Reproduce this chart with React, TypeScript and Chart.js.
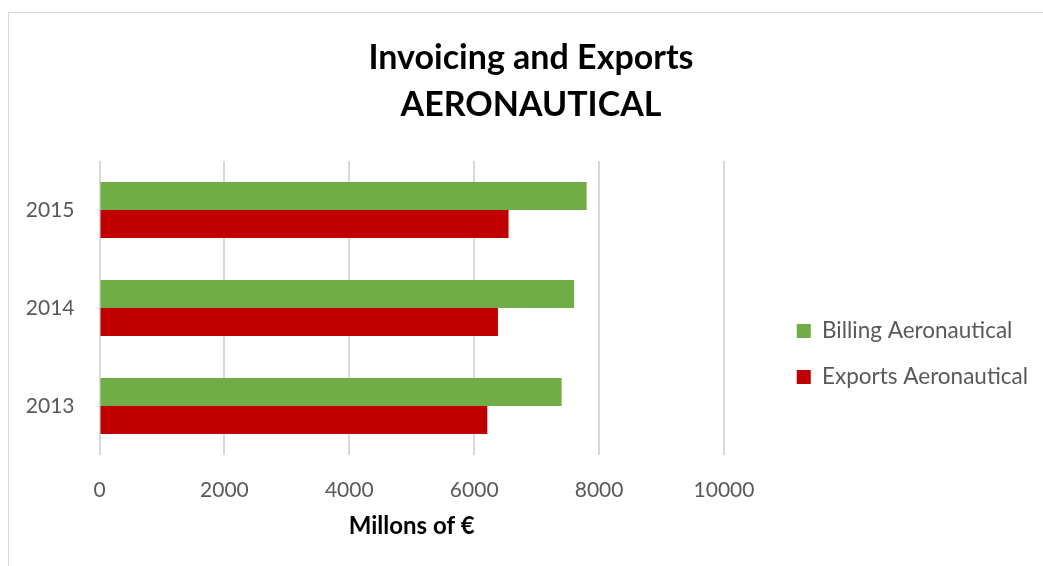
import React, { useEffect, useRef } from 'react';
import { Chart, registerables } from 'chart.js';

Chart.register(...registerables);

// ---- data ----
const years = ['2015', '2014', '2013'];
const billingAeronautical = [7800, 7600, 7400];
const exportsAeronautical = [6550, 6380, 6210];
const seriesNames = ['Billing Aeronautical', 'Exports Aeronautical'];
const seriesColors = ['#70AD47', '#C00000'];
const titleLines = ['Invoicing and Exports', 'AERONAUTICAL'];
const xAxisTitle = 'Millons of €';
const xMin = 0;
const xMax = 10000;
const xStep = 2000;

// ---- layout / style ----
const FONT = 'Lato, "Open Sans", sans-serif';
const H = 566;
const TITLE_CX = 531.5;
const PLOT_LEFT = 99.5;
const PLOT_RIGHT = 724;
const LEGEND_BOX_X = 797;
const LEGEND_SIZE = 22.5;
const LEGEND_PAD = 46 - LEGEND_SIZE;
const BOX = 14;
const TICK_SIZE = 21;
const TEXT_GRAY = '#595959';
const GRID = '#d9d9d9';

export default function App() {
  const ref = useRef<HTMLCanvasElement>(null);

  useEffect(() => {
    const canvas = ref.current;
    if (!canvas) return;
    const m = document.createElement('canvas').getContext('2d')!;
    m.font = `${LEGEND_SIZE}px ${FONT}`;
    const tw = Math.max(...seriesNames.map((s) => m.measureText(s).width));
    const legendWidth = LEGEND_PAD + BOX + LEGEND_SIZE / 2 + tw + 10;
    const legendLeft = LEGEND_BOX_X - LEGEND_PAD;
    const W = Math.round(legendLeft + legendWidth);
    const padLeft = Math.max(0, Math.min(24, Math.round(2 * TITLE_CX - W)));
    const yWidth = PLOT_LEFT - padLeft;
    const gapWidth = W - legendWidth - PLOT_RIGHT;

    canvas.width = W;
    canvas.height = H;
    canvas.style.width = W + 'px';
    canvas.style.height = H + 'px';

    const chart = new Chart(canvas, {
      type: 'bar',
      data: {
        labels: years,
        datasets: [
          {
            label: seriesNames[0],
            data: billingAeronautical,
            backgroundColor: seriesColors[0],
            borderWidth: 0,
            categoryPercentage: 56 / 98,
            barPercentage: 1,
          },
          {
            label: seriesNames[1],
            data: exportsAeronautical,
            backgroundColor: seriesColors[1],
            borderWidth: 0,
            categoryPercentage: 56 / 98,
            barPercentage: 1,
          },
        ],
      },
      options: {
        indexAxis: 'y',
        animation: false,
        responsive: false,
        devicePixelRatio: 1,
        layout: { padding: { left: padLeft, right: 0, top: 0, bottom: 0 } },
        scales: {
          x: {
            min: xMin,
            max: xMax,
            ticks: {
              stepSize: xStep,
              padding: 22.4,
              color: TEXT_GRAY,
              font: { family: FONT, size: TICK_SIZE },
              callback: (v: any) => String(v),
            },
            grid: { color: GRID, lineWidth: 2, drawTicks: false },
            border: { display: false },
            title: {
              display: true,
              text: xAxisTitle,
              color: '#000',
              font: { family: FONT, size: 24, weight: 'bold' },
              padding: { top: 0, bottom: 25 },
            },
            afterFit: (s: any) => {
              s.height = H - 455;
            },
          },
          y: {
            ticks: {
              padding: 25,
              color: TEXT_GRAY,
              font: { family: FONT, size: TICK_SIZE },
            },
            grid: { display: false, drawTicks: false },
            border: { display: false },
            afterFit: (s: any) => {
              s.width = yWidth;
            },
          },
          gap: {
            type: 'linear',
            position: 'right',
            display: true,
            ticks: { display: false },
            grid: { display: false, drawTicks: false },
            border: { display: false },
            afterFit: (s: any) => {
              s.width = gapWidth;
            },
          },
        } as any,
        plugins: {
          title: {
            display: true,
            text: titleLines,
            color: '#000',
            font: { family: FONT, size: 34, weight: 'bold', lineHeight: '47px' } as any,
            padding: { top: 34.5, bottom: 32.5 },
          },
          legend: {
            position: 'right',
            fullSize: false,
            maxWidth: 600,
            title: {
              display: true,
              text: ' ',
              font: { size: 10 },
              padding: { top: 80, bottom: 0 },
            },
            labels: {
              boxWidth: BOX,
              boxHeight: BOX,
              padding: LEGEND_PAD,
              color: TEXT_GRAY,
              font: { family: FONT, size: LEGEND_SIZE },
            },
          },
          tooltip: { enabled: false },
        },
      },
    });
    return () => chart.destroy();
  }, []);

  return (
    <div
      style={{
        position: 'fixed',
        left: 0,
        top: 0,
        width: 1043,
        height: 566,
        overflow: 'hidden',
        background: '#fff',
      }}
    >
      <div
        style={{
          position: 'absolute',
          left: 8,
          top: 12,
          width: 1100,
          height: 620,
          border: '1px solid #d4d4d4',
          boxSizing: 'border-box',
        }}
      />
      <canvas ref={ref} style={{ position: 'absolute', left: 0, top: 0 }} />
    </div>
  );
}
